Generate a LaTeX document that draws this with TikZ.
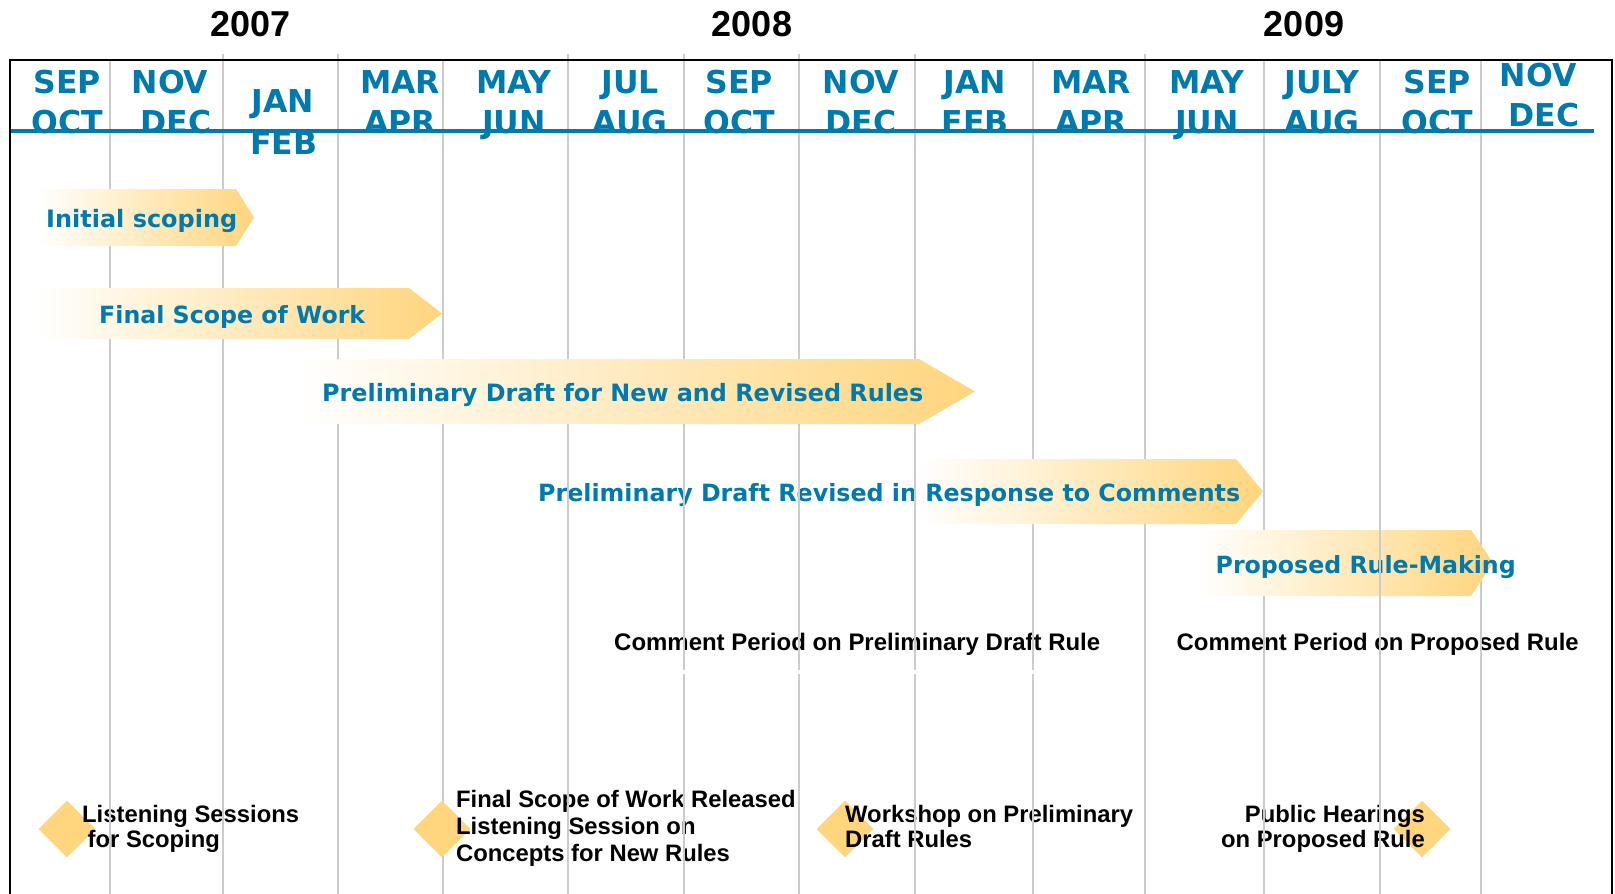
\documentclass[tikz,border=0pt]{standalone}
\usepackage{fontspec}
\usepackage{graphicx}
\usetikzlibrary{shapes.geometric}
\newfontfamily\vfont{DejaVu Sans}
\newfontfamily\afont{Liberation Sans}
\definecolor{tblue}{RGB}{0,121,172}
\definecolor{gold}{RGB}{255,213,125}
\definecolor{gridgray}{RGB}{204,204,204}
\tikzset{
  month/.style={font=\vfont\bfseries\fontsize{31.5}{34}\selectfont, text=tblue, inner sep=0pt, anchor=base},
  year/.style={font=\afont\bfseries\fontsize{36}{40}\selectfont, inner sep=0pt, anchor=base},
  lbl/.style={font=\vfont\bfseries, text=tblue, inner sep=0pt, anchor=base west},
  note/.style={font=\afont\bfseries\fontsize{23.8}{26}\selectfont, inner sep=0pt, anchor=base west},
  noteR/.style={note, anchor=base east},
  gridline/.style={draw=gridgray, line width=2.6pt},
  bar/.style={left color=white, right color=gold},
  milestone/.style={shape=diamond, fill=gold, draw=none, minimum width=57pt, minimum height=57pt, inner sep=0pt},
  frameline/.style={draw=black, line width=1.5pt},
  axisline/.style={draw=tblue, line width=3.3pt}
}
\begin{document}
\begin{tikzpicture}[x=1pt,y=-1pt]
\useasboundingbox (0,0) rectangle (1615,894);

% task bars
\shade[bar] (36,189) -- (236,189) -- (254,217.5) -- (236,246) -- (36,246) -- cycle;
\shade[bar] (36,288) -- (409,288) -- (442,313.5) -- (409,339) -- (36,339) -- cycle;
\shade[bar] (296,359) -- (919,359) -- (975,391.5) -- (919,424) -- (296,424) -- cycle;
\shade[bar] (917,459) -- (1236,459) -- (1263,491.5) -- (1236,524) -- (917,524) -- cycle;
\shade[bar] (1198,530) -- (1471,530) -- (1493,563) -- (1471,596) -- (1198,596) -- cycle;

% milestones
\node[milestone] (d1) at (67,829) {};
\node[milestone] (d2) at (442,829) {};
\node[milestone] (d3) at (845,829) {};
\node[milestone] (d4) at (1422,829) {};

% years
\node[year] (y7) at (250.5,36.7) {2007};
\node[year] (y8) at (752,36.7) {2008};
\node[year] (y9) at (1304,36.7) {2009};

% months
\node[month] (m1a) at (67,93) {SEP};    \node[month] (m1b) at (67,133.5) {OCT};
\node[month] (m2a) at (170,93) {NOV};   \node[month] (m2b) at (176,133.5) {DEC};
\node[month] (m3a) at (283,112.5) {JAN}; \node[month] (m3b) at (284,154) {FEB};
\node[month] (m4a) at (400,93) {MAR};   \node[month] (m4b) at (400,133.5) {APR};
\node[month] (m5a) at (514,93) {MAY};   \node[month] (m5b) at (514,133.5) {JUN};
\node[month] (m6a) at (630,93) {JUL};   \node[month] (m6b) at (630,133.5) {AUG};
\node[month] (m7a) at (739,93) {SEP};   \node[month] (m7b) at (739,133.5) {OCT};
\node[month] (m8a) at (861,93) {NOV};   \node[month] (m8b) at (861,133.5) {DEC};
\node[month] (m9a) at (975,93) {JAN};   \node[month] (m9b) at (975,133.5) {FEB};
\node[month] (m10a) at (1091,93) {MAR}; \node[month] (m10b) at (1091,133.5) {APR};
\node[month] (m11a) at (1207,93) {MAY}; \node[month] (m11b) at (1207,133.5) {JUN};
\node[month] (m12a) at (1322,93) {JULY}; \node[month] (m12b) at (1322,133.5) {AUG};
\node[month] (m13a) at (1437,93) {SEP}; \node[month] (m13b) at (1437,133.5) {OCT};
\node[month] (m14a) at (1538,86) {NOV}; \node[month] (m14b) at (1544,126) {DEC};

% bar labels
\node[lbl] (t1) at (46,227) {\resizebox{191pt}{!}{Initial scoping}};
\node[lbl] (t2) at (99,323) {\resizebox{266pt}{!}{Final Scope of Work}};
\node[lbl] (t3) at (322,401) {\resizebox{601pt}{!}{Preliminary Draft for New and Revised Rules}};
\node[lbl] (t4) at (538,501) {\resizebox{702pt}{!}{Preliminary Draft Revised in Response to Comments}};
\node[lbl] (t5) at (1215.5,573) {\resizebox{300pt}{!}{Proposed Rule-Making}};

% comment periods
\node[note] (c1) at (614,650) {\resizebox{486pt}{!}{Comment Period on Preliminary Draft Rule}};
\node[note] (c2) at (1176.5,650) {\resizebox{402pt}{!}{Comment Period on Proposed Rule}};

% milestone texts
\node[note] (e1a) at (82,822) {Listening Sessions};
\node[note] (e1b) at (87.5,847) {for Scoping};
\node[note] (e2a) at (456,807) {Final Scope of Work Released};
\node[note] (e2b) at (456,834) {Listening Session on};
\node[note] (e2c) at (456,861) {Concepts for New Rules};
\node[note] (e3a) at (845,822) {Workshop on Preliminary};
\node[note] (e3b) at (845,847) {Draft Rules};
\node[noteR] (e4a) at (1425,822) {Public Hearings};
\node[noteR] (e4b) at (1425,847) {on Proposed Rule};

% grid lines, hidden behind bars and a milestone
\begin{scope}[even odd rule]
\clip (0,0) rectangle (1615,894)
  (36,189) -- (236,189) -- (254,217.5) -- (236,246) -- (36,246) -- cycle
  (36,288) -- (409,288) -- (442,313.5) -- (409,339) -- (36,339) -- cycle
  (296,359) -- (919,359) -- (975,391.5) -- (919,424) -- (296,424) -- cycle
  (917,459) -- (1236,459) -- (1263,491.5) -- (1236,524) -- (917,524) -- cycle
  (1198,530) -- (1471,530) -- (1493,563) -- (1471,596) -- (1198,596) -- cycle
  (d2.north) -- (d2.east) -- (d2.south) -- (d2.west) -- cycle;
\foreach \x in {223,338,568,684,799,915,1145}
  \draw[gridline] (\x,54) -- (\x,894);
\foreach \x in {110,443,1033,1264,1380,1481}
  \draw[gridline] (\x,60) -- (\x,894);
\end{scope}
\draw[gridline] (1380,530) -- (1380,596);
\draw[white, line width=4pt] (590,672) -- (1100,672);

% axis line and frame
\draw[axisline] (10,131) -- (1594,131);
\draw[frameline] (10,894) -- (10,60) -- (1612,60) -- (1612,894);
\end{tikzpicture}
\end{document}
